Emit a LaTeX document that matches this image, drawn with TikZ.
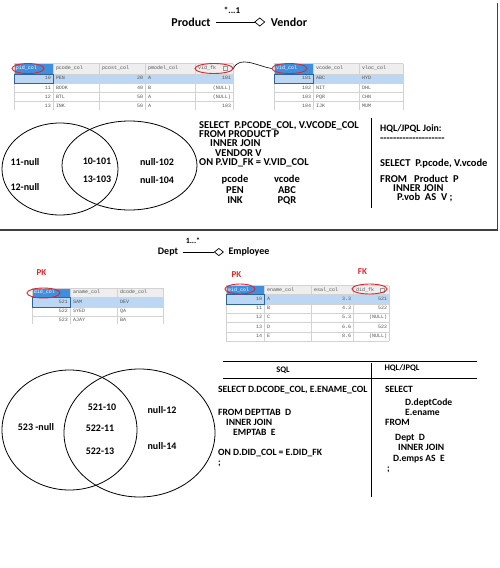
\documentclass[tikz,border=0pt]{standalone}
\usepackage{fontspec}
\setmainfont{Carlito}[Ligatures=TeXOff]
\setmonofont{Liberation Mono}
\usetikzlibrary{arrows.meta,shapes.geometric}
\definecolor{keyred}{HTML}{E3242B}
\definecolor{selblue}{HTML}{3F8FDF}
\definecolor{rowblue}{HTML}{BCD7F4}
\definecolor{gridgray}{HTML}{D2D2D2}
\definecolor{hdrgray}{HTML}{EEEEEE}
\definecolor{cellink}{HTML}{555555}

\begin{document}
\begin{tikzpicture}[x=1pt,y=-1pt,
    title/.style={font=\fontsize{12}{14}\selectfont\bfseries,inner sep=5.5pt},
    lbl/.style={font=\fontsize{10}{12}\selectfont\bfseries,inner sep=4.5pt},
    mult/.style={font=\fontsize{9}{10}\selectfont\bfseries,inner sep=0pt},
    code/.style={font=\fontsize{10.5}{9.2}\selectfont\bfseries,align=left,anchor=north west,inner sep=0pt},
    lowcode/.style={code,font=\fontsize{9.6}{10}\selectfont\bfseries},
    colhead/.style={font=\fontsize{8.5}{10}\selectfont\bfseries,inner sep=0pt},
    cell/.style={font=\fontsize{5}{6}\selectfont\ttfamily,text=cellink,inner sep=0.8pt,text height=3.4pt,text depth=1pt},
    lcell/.style={cell,anchor=west},
    rcell/.style={cell,anchor=east},
    grid/.style={draw=gridgray,line width=0.4pt},
    selcell/.style={draw=selblue!70!black,line width=0.5pt},
    icon/.style={draw=cellink!60,line width=0.3pt},
    ring/.style={ellipse,draw=keyred,line width=0.9pt,inner sep=0pt,minimum height=10pt},
    key/.style={text=keyred,font=\fontsize{9}{10}\selectfont\bfseries,inner sep=0pt},
    venn/.style={line width=0.8pt},
    uml/.style={-{Diamond[open,length=11pt,width=9pt]},line width=0.7pt},
    rule/.style={line width=0.8pt}]
  \useasboundingbox (0,0) rectangle (499,568);

  % ---------- Product *...1 Vendor ----------
  \node[title] (product) at (191,22) {Product};
  \node[title] (vendor) at (289,22) {Vendor};
  \node[mult] (pvmult) at (232,10) {*...1};
  \draw[uml] (product) -- (vendor);
  \draw[line width=1.3pt,black!75] (497.5,3) -- (497.5,230) -- (0,230);

  % product table
  \fill[hdrgray] (14,63.5) rectangle (233,74);
  \fill[rowblue] (14,74) rectangle (233,83.2);
  \fill[selblue] (14,63.5) rectangle (53,74);
  \foreach \y in {63.5,74,83.2,92.4,101.6} \draw[grid] (14,\y) -- (233,\y);
  \foreach \x in {14,53,99,145,195,233} \draw[grid] (\x,63.5) -- (\x,110);
  \draw[selcell] (14,74) rectangle (53,83.2);
  \draw[icon] (223,66.5) rectangle (227,70.5);
  \node[lcell,text=white] (ph1) at (15,68.75) {pid\_col};
  \foreach \x/\t [count=\i from 2] in {55/pcode\_col,101/pcost\_col,147/pmodel\_col,197/vid\_fk}
    \node[lcell] (ph\i) at (\x,68.75) {\t};
  \foreach \y/\a/\b/\c/\d/\e [count=\i] in {78.6/10/PEN/20/A/101,87.8/11/BOOK/40/B/{(NULL)},
      97/12/BTL/50/A/{(NULL)},106.2/13/INK/50/A/103}{
    \node[rcell] (pa\i) at (52,\y) {\a};
    \node[lcell] (pb\i) at (55,\y) {\b};
    \node[rcell] (pc\i) at (144,\y) {\c};
    \node[lcell] (pd\i) at (147,\y) {\d};
    \node[rcell] (pe\i) at (232,\y) {\e};
  }

  % vendor table
  \fill[hdrgray] (274,63.5) rectangle (403,74);
  \fill[rowblue] (274,74) rectangle (403,83.2);
  \fill[selblue] (274,63.5) rectangle (313,74);
  \foreach \y in {63.5,74,83.2,92.4,101.6} \draw[grid] (274,\y) -- (403,\y);
  \foreach \x in {274,313,359,403} \draw[grid] (\x,63.5) -- (\x,110);
  \draw[selcell] (274,74) rectangle (313,83.2);
  \node[lcell,text=white] (vh1) at (275,68.75) {vid\_col};
  \node[lcell] (vh2) at (315,68.75) {vcode\_col};
  \node[lcell] (vh3) at (361,68.75) {vloc\_col};
  \foreach \y/\a/\b/\c [count=\i] in {78.6/101/ABC/HYD,87.8/102/NIT/DHL,97/103/PQR/CHN,106.2/104/IJK/MUM}{
    \node[rcell] (va\i) at (312,\y) {\a};
    \node[lcell] (vb\i) at (315,\y) {\b};
    \node[lcell] (vc\i) at (361,\y) {\c};
  }

  \node[ring,minimum width=32pt] (pidring) at (28,68.5) {};
  \node[ring,minimum width=38pt] (vidfkring) at (214,68.5) {};
  \node[ring,minimum width=35pt] (vidcolring) at (289.5,68.5) {};
  \draw[line width=0.6pt] (vidfkring.east) to[out=65,in=170] (vidcolring.west);

  % venn
  \draw[venn] (60,169) ellipse (58 and 46);
  \draw[venn] (129.5,165.5) ellipse (67.5 and 44.5);
  \node[lbl] (v11) at (25,162) {11-null};
  \node[lbl] (v12) at (25,187) {12-null};
  \node[lbl] (v10) at (97,161) {10-101};
  \node[lbl] (v13) at (97,179) {13-103};
  \node[lbl] (v102) at (157,162) {null-102};
  \node[lbl] (v104) at (157,180) {null-104};

  % sql + hql
  \node[code] (sqltop) at (199,121.5) {SELECT~~P.PCODE\_COL, V.VCODE\_COL\\FROM PRODUCT P\\
    \hspace*{11pt}INNER JOIN\\\hspace*{16pt}VENDOR V\\ON P.VID\_FK = V.VID\_COL};
  \node[code,align=center,anchor=north,font=\fontsize{10.5}{10.5}\selectfont\bfseries] (pcodes) at (235,175) {pcode\\PEN\\INK};
  \node[code,align=center,anchor=north,font=\fontsize{10.5}{10.5}\selectfont\bfseries] (vcodes) at (287,175) {vcode\\ABC\\PQR};
  \draw[rule] (371,118) -- (371,208);
  \node[code,font=\fontsize{9.8}{10}\selectfont\bfseries] (hqlhead) at (380,124.5) {HQL/JPQL Join:};
  \node[code,anchor=west] (hqldash) at (380,140) {\foreach \k in {1,...,20}{\mbox{-}}};
  \node[code] (hqlsel) at (380,158.5) {SELECT~~P.pcode, V.vcode};
  \node[code] (hqlfrom) at (380,174.5) {FROM~~~Product~ P\\\hspace*{13pt}INNER JOIN\\\hspace*{17pt}P.vob~ AS~~V~;};

  % ---------- Dept 1...* Employee ----------
  \node[lbl] (dept) at (168,252) {Dept};
  \node[lbl] (employee) at (249,252) {Employee};
  \node[mult,font=\fontsize{8}{9}\selectfont\bfseries] (demult) at (193,241) {1...*};
  \draw[uml,-{Diamond[open,length=10pt,width=8pt]}] (dept) -- (employee);

  \node[key] (pkd) at (41.5,272.5) {PK};
  \node[key] (pke) at (236.5,275) {PK};
  \node[key] (fke) at (362.5,272) {FK};

  % dept table
  \fill[hdrgray] (32,288) rectangle (163,297.5);
  \fill[rowblue] (32,297.5) rectangle (163,306.8);
  \fill[selblue] (32,288) rectangle (70,297.5);
  \foreach \y in {288,297.5,306.8,316.1} \draw[grid] (32,\y) -- (163,\y);
  \foreach \x in {32,70,117,163} \draw[grid] (\x,288) -- (\x,324);
  \draw[selcell] (32,297.5) rectangle (70,306.8);
  \node[lcell,text=white] (dh1) at (33,292.75) {did\_col};
  \node[lcell] (dh2) at (72,292.75) {aname\_col};
  \node[lcell] (dh3) at (119,292.75) {dcode\_col};
  \foreach \y/\a/\b/\c [count=\i] in {302.15/521/SAM/DEV,311.45/522/SYED/QA,320.75/523/AJAY/BA}{
    \node[rcell] (da\i) at (69,\y) {\a};
    \node[lcell] (db\i) at (72,\y) {\b};
    \node[lcell] (dc\i) at (119,\y) {\c};
  }

  % employee table
  \fill[hdrgray] (226,285.5) rectangle (389,294.5);
  \fill[rowblue] (226,294.5) rectangle (389,303.8);
  \fill[selblue] (226,285.5) rectangle (264,294.5);
  \foreach \y in {285.5,294.5,303.8,313.1,322.4,331.7,341} \draw[grid] (226,\y) -- (389,\y);
  \foreach \x in {226,264,311,353,389} \draw[grid] (\x,285.5) -- (\x,341);
  \draw[selcell] (226,294.5) rectangle (264,303.8);
  \draw[icon] (380,288) rectangle (384,292);
  \node[lcell,text=white] (eh1) at (227,290) {eid\_col};
  \node[lcell] (eh2) at (266,290) {ename\_col};
  \node[lcell] (eh3) at (313,290) {esal\_col};
  \node[lcell] (eh4) at (355,290) {did\_fk};
  \foreach \y/\a/\b/\c/\d [count=\i] in {299.15/10/A/3.3/521,308.45/11/B/4.3/522,317.75/12/C/5.3/{(NULL)},
      327.05/13/D/6.6/522,336.35/14/E/8.6/{(NULL)}}{
    \node[rcell] (ea\i) at (263,\y) {\a};
    \node[lcell] (eb\i) at (266,\y) {\b};
    \node[rcell] (ec\i) at (352,\y) {\c};
    \node[rcell] (ed\i) at (388,\y) {\d};
  }

  \node[ring,minimum width=33pt] (didring) at (43.5,293) {};
  \node[ring,minimum width=30pt] (eidring) at (240,289) {};
  \node[ring,minimum width=35pt] (didfkring) at (369.5,289) {};

  % venn
  \draw[venn] (69.5,430) ellipse (67.5 and 60);
  \draw[venn] (139.5,433) ellipse (75.5 and 64);
  \node[lbl] (w523) at (36,427) {523 -null};
  \node[lbl] (w10) at (102,407) {521-10};
  \node[lbl] (w11) at (100,428) {522-11};
  \node[lbl] (w13) at (100,451) {522-13};
  \node[lbl] (w12) at (162,410) {null-12};
  \node[lbl] (w14) at (162,446) {null-14};

  % sql / hql table
  \draw[rule] (223,361) -- (477,361);
  \draw[rule] (223,378) -- (477,378);
  \draw[rule] (371,363) -- (371,497);
  \node[colhead] (sqlhead) at (283,370) {SQL};
  \node[colhead] (hqlhead2) at (402,368) {HQL/JPQL};
  \node[lowcode] (sqlcode) at (218,385.5) {SELECT D.DCODE\_COL, E.ENAME\_COL\\[13pt]FROM DEPTTAB~ D\\
    \hspace*{8pt}INNER JOIN\\\hspace*{15pt}EMPTAB~~E\\[10pt]ON D.DID\_COL = E.DID\_FK\\;};
  \node[lowcode] (hqlcode) at (385,385.5) {SELECT\\[3pt]\hspace*{20pt}D.deptCode\\\hspace*{20pt}E.ename\\FROM\\[5pt]
    \hspace*{10pt}Dept~ D\\\hspace*{13pt}INNER JOIN\\[1pt]\hspace*{8pt}D.emps AS~ E\\\hspace*{2pt};};
\end{tikzpicture}
\end{document}
